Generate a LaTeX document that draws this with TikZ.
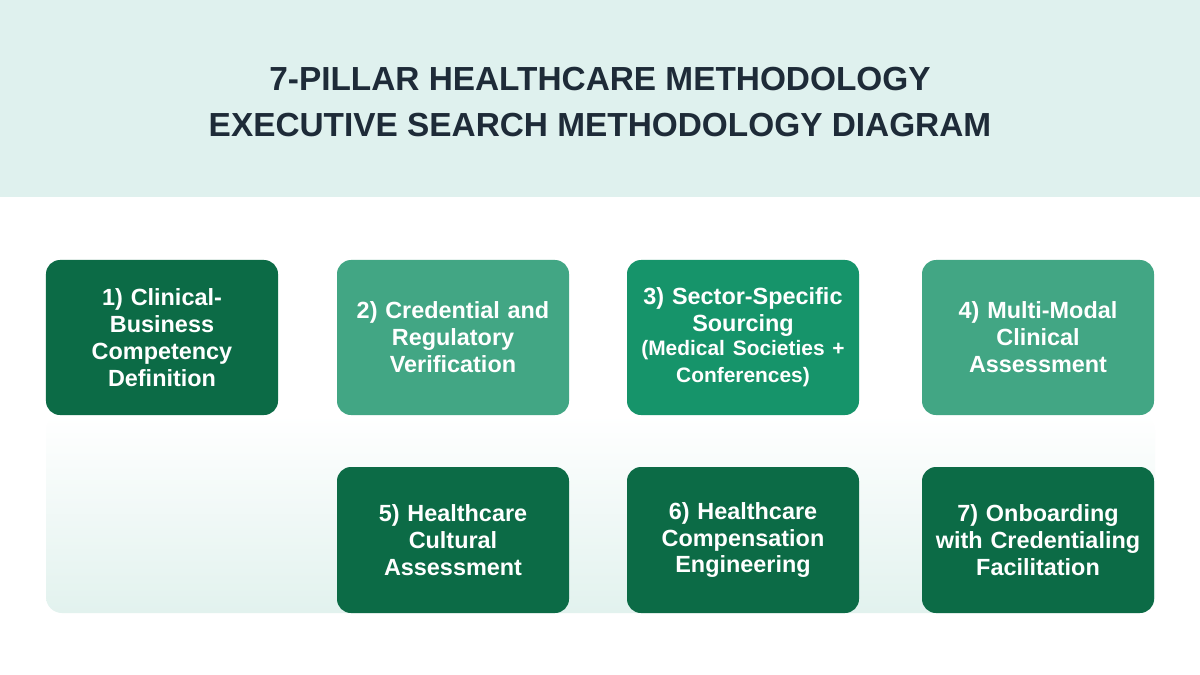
\documentclass[tikz,border=0pt]{standalone}
\usepackage{fontspec}
\setmainfont{Liberation Sans}
\definecolor{hdr}{HTML}{DFF1EE}
\definecolor{ttl}{HTML}{1E2B38}
\definecolor{gdark}{HTML}{0C6B46}
\definecolor{gmid}{HTML}{16946A}
\definecolor{glight}{HTML}{42A684}
\definecolor{panel}{HTML}{E2F2EE}
\begin{document}
\begin{tikzpicture}[x=1bp,y=-1bp,
  pillar/.style={rounded corners=14bp, minimum width=232bp, minimum height=155bp,
    text=white, font=\fontsize{23.5}{27}\selectfont\bfseries, align=center, text width=228bp, inner sep=0pt},
  small/.style={},
  titletext/.style={text=ttl, font=\fontsize{33.5}{47}\selectfont\bfseries, align=center}]
\useasboundingbox (0,0) rectangle (1200,675);
\fill[white] (0,0) rectangle (1200,675);
\fill[hdr] (0,0) rectangle (1200,197);
\shade[top color=white, bottom color=panel, rounded corners=16bp] (46,415) rectangle (1155,613);
\node[titletext] (title) at (600,102) {7-PILLAR HEALTHCARE METHODOLOGY\\EXECUTIVE SEARCH METHODOLOGY DIAGRAM};
\node[pillar, fill=gdark] (p1) at (162,337.5) {1) Clinical-\\Business\\Competency\\Definition};
\node[pillar, fill=glight] (p2) at (453,337.5) {2) Credential and\\Regulatory\\Verification};
\node[pillar, fill=gmid] (p3) at (743,337.5) {3) Sector-Specific\\Sourcing\\{\fontsize{21}{24}\selectfont (Medical Societies +\\Conferences)}};
\node[pillar, fill=glight] (p4) at (1038,337.5) {4) Multi-Modal\\Clinical\\Assessment};
\node[pillar, fill=gdark, minimum height=146bp] (p5) at (453,540) {5) Healthcare\\Cultural\\Assessment};
\node[pillar, fill=gdark, minimum height=146bp] (p6) at (743,540) {6) Healthcare\\Compensation\\Engineering};
\node[pillar, fill=gdark, minimum height=146bp] (p7) at (1038,540) {7) Onboarding\\with Credentialing\\Facilitation};
\end{tikzpicture}
\end{document}
